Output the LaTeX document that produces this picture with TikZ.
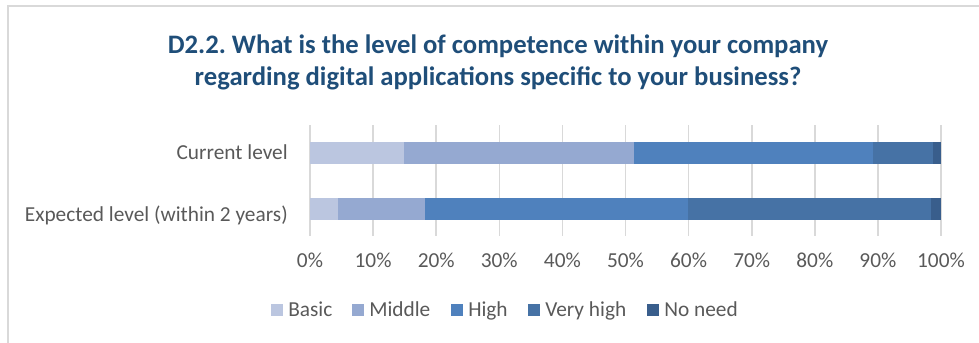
\documentclass[tikz,border=0pt]{standalone}
\usepackage{fontspec}
\setmainfont{Carlito}
\usepackage{tikz}
\frenchspacing

\definecolor{titleblue}{RGB}{31,78,121}
\definecolor{labelgray}{RGB}{89,89,89}
\definecolor{gridgray}{RGB}{217,217,217}
\definecolor{basiccol}{RGB}{187,198,224}
\definecolor{middlecol}{RGB}{149,169,209}
\definecolor{highcol}{RGB}{79,129,189}
\definecolor{veryhighcol}{RGB}{70,114,165}
\definecolor{noneedcol}{RGB}{57,94,140}

\tikzset{
  gridline/.style={draw=gridgray, line width=1.2pt},
  ticklabel/.style={inner sep=0pt, text=labelgray, font=\fontsize{16}{19}\selectfont, anchor=base},
  catlabel/.style={inner sep=0pt, text=labelgray, font=\fontsize{16}{19}\selectfont, anchor=base east},
  legkey/.style={minimum width=9pt, minimum height=9pt, inner sep=0pt},
  legtext/.style={inner sep=0pt, text=labelgray, font=\fontsize{16}{19}\selectfont, anchor=base west}
}

\begin{document}
\begin{tikzpicture}[x=0.75pt,y=0.75pt,yscale=-1,xscale=1]
\useasboundingbox (0,0) rectangle (979,343);

%Shape: Frame
\draw [draw=gridgray, line width=1.2pt] (8,343) -- (8,6) -- (979,6) ;

% Text Node
\node (title) [inner sep=0.75pt, text=titleblue, align=center, font=\fontsize{20}{24}\bfseries] at (498,62) {D2.2. What is the level of competence within your company\\regarding digital applications specific to your business?};

%Straight Lines
\draw [gridline] (310,125) -- (310,236) ;
\draw [gridline] (373.1,125) -- (373.1,236) ;
\draw [gridline] (436.2,125) -- (436.2,236) ;
\draw [gridline] (499.3,125) -- (499.3,236) ;
\draw [gridline] (562.4,125) -- (562.4,236) ;
\draw [gridline] (625.5,125) -- (625.5,236) ;
\draw [gridline] (688.6,125) -- (688.6,236) ;
\draw [gridline] (751.7,125) -- (751.7,236) ;
\draw [gridline] (814.8,125) -- (814.8,236) ;
\draw [gridline] (877.9,125) -- (877.9,236) ;
\draw [gridline] (941,125) -- (941,236) ;

%Shape: Rectangle (current level)
\fill [basiccol] (310,142) rectangle (404,164) ;
\fill [middlecol] (404,142) rectangle (634.3,164) ;
\fill [highcol] (634.3,142) rectangle (872.7,164) ;
\fill [veryhighcol] (872.7,142) rectangle (932.7,164) ;
\fill [noneedcol] (932.7,142) rectangle (941,164) ;

%Shape: Rectangle (expected level)
\fill [basiccol] (310,198) rectangle (337.7,220) ;
\fill [middlecol] (337.7,198) rectangle (425,220) ;
\fill [highcol] (425,198) rectangle (687.7,220) ;
\fill [veryhighcol] (687.7,198) rectangle (930.7,220) ;
\fill [noneedcol] (930.7,198) rectangle (941,220) ;

% Text Node
\node (current) [catlabel] at (288,159.5) {Current level};
% Text Node
\node (expected) [catlabel] at (288,221) {Expected level (within 2 years)};

% Text Node
\node (t0) [ticklabel] at (310,267) {0\%};
\node (t10) [ticklabel] at (373.1,267) {10\%};
\node (t20) [ticklabel] at (436.2,267) {20\%};
\node (t30) [ticklabel] at (499.3,267) {30\%};
\node (t40) [ticklabel] at (562.4,267) {40\%};
\node (t50) [ticklabel] at (625.5,267) {50\%};
\node (t60) [ticklabel] at (688.6,267) {60\%};
\node (t70) [ticklabel] at (751.7,267) {70\%};
\node (t80) [ticklabel] at (814.8,267) {80\%};
\node (t90) [ticklabel] at (877.9,267) {90\%};
\node (t100) [ticklabel] at (941,267) {100\%};

%Shape: Legend keys
\node (kbasic) [legkey, fill=basiccol] at (277,310) {};
\node (kmiddle) [legkey, fill=middlecol] at (358,310) {};
\node (khigh) [legkey, fill=highcol] at (457,310) {};
\node (kveryhigh) [legkey, fill=veryhighcol] at (534,310) {};
\node (knoneed) [legkey, fill=noneedcol] at (653,310) {};

% Text Node
\node (lbasic) [legtext] at (288,316) {Basic};
\node (lmiddle) [legtext] at (369,316) {Middle};
\node (lhigh) [legtext] at (468,316) {High};
\node (lveryhigh) [legtext] at (545,316) {Very high};
\node (lnoneed) [legtext] at (664,316) {No need};

\end{tikzpicture}
\end{document}
